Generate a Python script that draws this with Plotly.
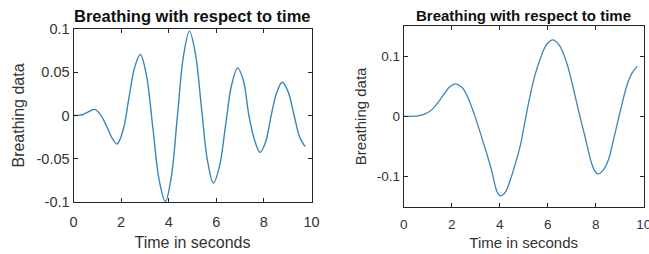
import plotly.graph_objects as go

# ---- data ----
left_time = [0, 0.2, 0.4, 0.6, 0.75, 0.9, 1.13, 1.37, 1.6, 1.83, 2.075, 2.32, 2.565,
             2.81, 3.07, 3.335, 3.6, 3.86, 4.11, 4.365, 4.62, 4.87, 5.12, 5.375, 5.63,
             5.88, 6.135, 6.39, 6.645, 6.9, 7.135, 7.37, 7.605, 7.84, 8.07, 8.305, 8.54,
             8.77, 9.015, 9.26, 9.505, 9.73]
left_breath = [0, 0.0001, 0.0012, 0.0038, 0.006, 0.007, 0.001, -0.011, -0.025, -0.033,
               -0.0178, 0.0188, 0.0553, 0.0705, 0.0456, -0.0145, -0.0746, -0.0995, -0.0707,
               -0.001, 0.0687, 0.0975, 0.0718, 0.0097, -0.0523, -0.078, -0.0585, -0.0115,
               0.0355, 0.055, 0.0407, 0.0, -0.0283, -0.0426, -0.0307, 0.0, 0.0266, 0.0385,
               0.0276, 0.0012, -0.0251, -0.036]

right_time = [0, 0.3, 0.6, 0.9, 1.2, 1.45, 1.7, 1.92, 2.14, 2.45, 2.62, 2.8, 2.97, 3.15,
              3.32, 3.5, 3.67, 3.85, 3.95, 4.03, 4.12, 4.25, 4.43, 4.65, 4.85, 5.05, 5.26,
              5.48, 5.68, 5.95, 6.22, 6.5, 6.79, 7.0, 7.21, 7.38, 7.55, 7.8, 7.95, 8.09,
              8.3, 8.53, 8.7, 8.87, 9.08, 9.29, 9.5, 9.73]
right_breath = [0, 0.0, 0.0008, 0.004, 0.012, 0.024, 0.038, 0.049, 0.054, 0.047, 0.036,
                0.019, 0.0, -0.022, -0.044, -0.067, -0.091, -0.121, -0.1295, -0.132,
                -0.1305, -0.125, -0.107, -0.079, -0.05, -0.009, 0.033, 0.07, 0.0945, 0.119,
                0.127, 0.117, 0.089, 0.058, 0.022, -0.006, -0.033, -0.074, -0.09, -0.0955,
                -0.09, -0.072, -0.046, -0.017, 0.018, 0.05, 0.071, 0.083]

x_ticks = [0, 2, 4, 6, 8, 10]
x_tick_text = ["0", "2", "4", "6", "8", "10"]
left_y_ticks = [-0.1, -0.05, 0, 0.05, 0.1]
left_y_text = ["-0.1", "-0.05", "0", "0.05", "0.1"]
right_y_ticks = [-0.1, 0, 0.1]
right_y_text = ["-0.1", "0", "0.1"]

title_text = "Breathing with respect to time"
x_title = "Time in seconds"
y_title = "Breathing data"

W, H = 649, 254
line_color = "#3a86b8"
axis_color = "#262626"
text_color = "#333333"
font_family = "Liberation Sans, Arial, sans-serif"

fig = go.Figure()
fig.add_trace(go.Scatter(x=left_time, y=left_breath, mode="lines",
                         line=dict(color=line_color, width=1.4, shape="spline", smoothing=1.0),
                         xaxis="x", yaxis="y", showlegend=False, hoverinfo="skip"))
fig.add_trace(go.Scatter(x=right_time, y=right_breath, mode="lines",
                         line=dict(color=line_color, width=1.3, shape="spline", smoothing=1.0),
                         xaxis="x2", yaxis="y2", showlegend=False, hoverinfo="skip"))


def px_x(p):
    return p / W


def px_y(p):
    return 1 - p / H


common = dict(showline=True, mirror="ticks", linecolor=axis_color, linewidth=1,
              ticks="inside", ticklen=4, tickcolor=axis_color, tickwidth=1,
              showgrid=False, zeroline=False, fixedrange=True, automargin=False)

fig.update_layout(
    template="none",
    width=W, height=H,
    margin=dict(l=0, r=0, t=0, b=0, pad=0),
    paper_bgcolor="white", plot_bgcolor="white",
    font=dict(family=font_family, color=text_color),
    xaxis=dict(domain=[px_x(73.5), px_x(311.5)], range=[0, 10], anchor="y",
               tickvals=x_ticks, ticktext=x_tick_text, tickfont=dict(size=14.5),
               ticklabelstandoff=7,
               title=dict(text=x_title, font=dict(size=16), standoff=7), **common),
    yaxis=dict(domain=[px_y(202), px_y(29)], range=[-0.1, 0.1], anchor="x",
               tickvals=left_y_ticks, ticktext=left_y_text, tickfont=dict(size=14.5),
               title=dict(text=y_title, font=dict(size=16), standoff=7), **common),
    xaxis2=dict(domain=[px_x(403.7), px_x(643.7)], range=[0, 10], anchor="y2",
                tickvals=x_ticks, ticktext=x_tick_text, tickfont=dict(size=13.5),
                ticklabelstandoff=5, ticklabeloverflow="allow",
                title=dict(text=x_title, font=dict(size=15), standoff=6), **common),
    yaxis2=dict(domain=[px_y(206.7), px_y(26)], range=[-0.15, 0.15], anchor="x2",
                tickvals=right_y_ticks, ticktext=right_y_text, tickfont=dict(size=13.5),
                title=dict(text=y_title, font=dict(size=15), standoff=6), **common),
    annotations=[
        dict(text="<b>" + title_text + "</b>", x=(73.5 + 311.5) / 2 / W, y=px_y(16),
             xref="paper", yref="paper", showarrow=False, xanchor="center", yanchor="middle",
             font=dict(size=16.5, color="#111111", family=font_family)),
        dict(text="<b>" + title_text + "</b>", x=(403.7 + 643.7) / 2 / W, y=px_y(15),
             xref="paper", yref="paper", showarrow=False, xanchor="center", yanchor="middle",
             font=dict(size=15, color="#111111", family=font_family)),
    ],
)

fig.write_html("out.html", config={"displayModeBar": False},
               post_script="document.body.style.margin='0';")
